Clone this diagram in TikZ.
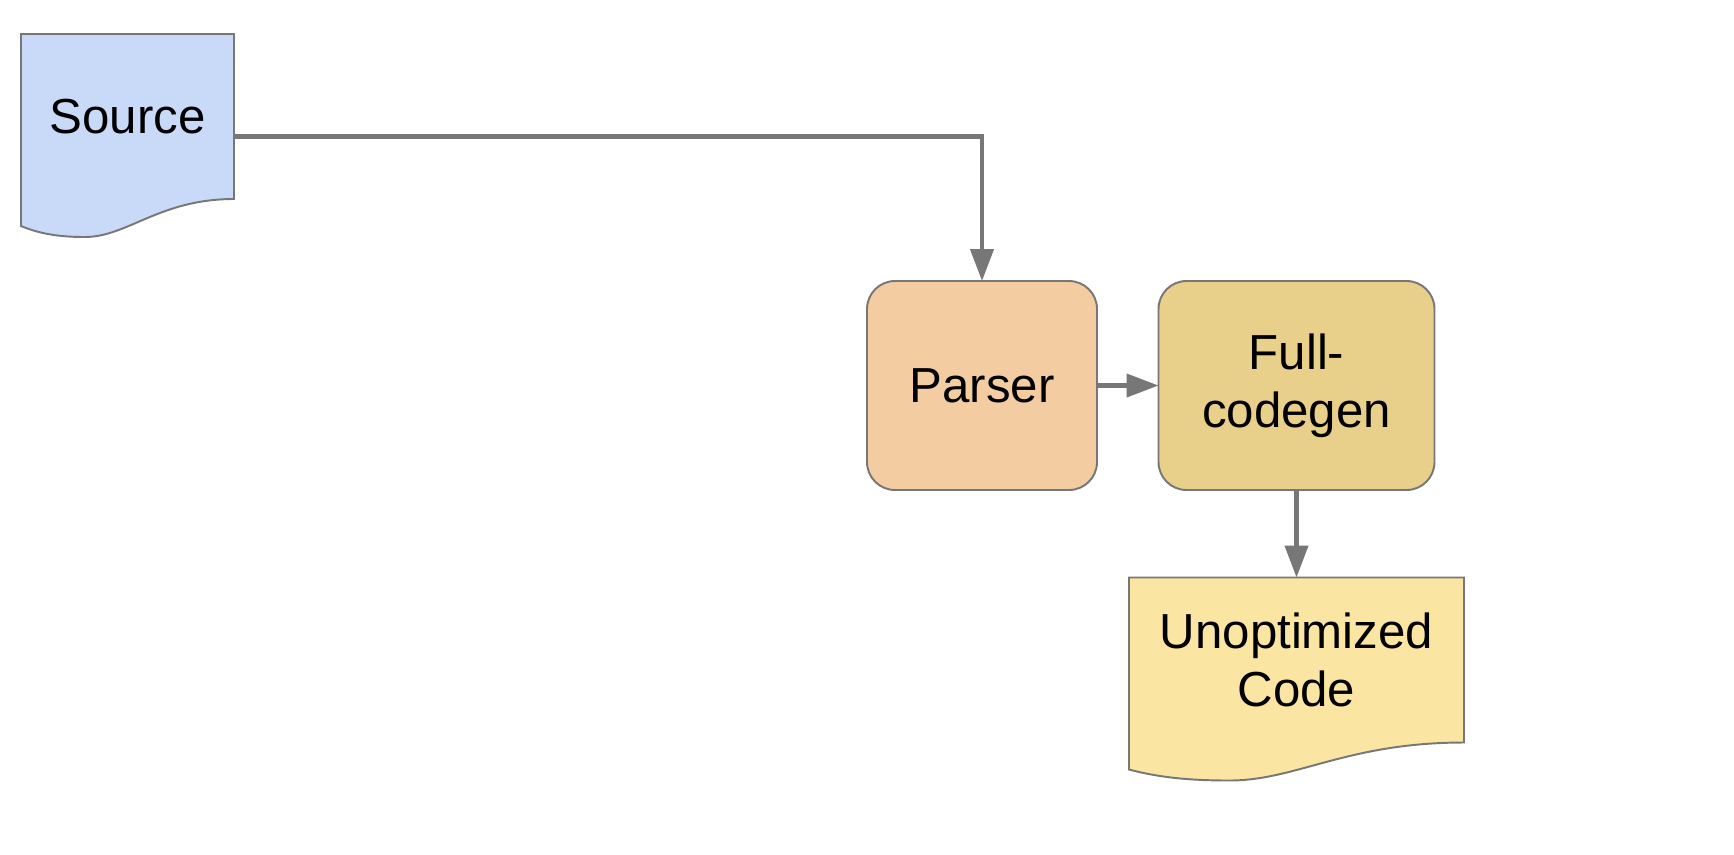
\documentclass[tikz,border=0pt]{standalone}
\usepackage{fontspec}
\setmainfont{Liberation Sans}
\usetikzlibrary{arrows.meta,calc,backgrounds}

\definecolor{srcblue}{HTML}{C9DAF8}
\definecolor{parserorange}{HTML}{F3CDA1}
\definecolor{fullgold}{HTML}{E8CF8A}
\definecolor{codeyellow}{HTML}{FBE5A2}
\definecolor{edgegray}{HTML}{777777}

\tikzset{
    boxtext/.style={font=\fontsize{28}{33}\selectfont, align=center, outer sep=0pt, inner sep=0pt},
    stagebox/.style={boxtext, draw=edgegray, line width=1.1pt, rounded corners=0.56cm, minimum height=4.18cm},
    docnode/.style={boxtext, minimum height=3.3cm},
    docline/.style={draw=edgegray, line width=1.1pt},
    conn/.style={draw=edgegray, line width=2.4pt, -{Triangle[length=0.64cm,width=0.46cm]}}
}

% document shape drawn round a node: #1 node name, #2 fill
\newcommand{\docshape}[2]{%
    \draw[docline,fill=#2] (#1.south east) -- (#1.north east) -- (#1.north west)
        -- ([yshift=-0.54cm]#1.south west)
        .. controls ($(#1.south west)!0.1!(#1.south east)+(0,-0.72cm)$) and ($(#1.south west)!0.2!(#1.south east)+(0,-0.76cm)$)
        .. ($(#1.south west)!0.3!(#1.south east)+(0,-0.76cm)$)
        .. controls ($(#1.south west)!0.5!(#1.south east)+(0,-0.76cm)$) and ($(#1.south west)!0.65!(#1.south east)$)
        .. (#1.south east) -- cycle;}

\begin{document}
\begin{tikzpicture}
    \useasboundingbox (0,0) rectangle (34.68,-17.08);

    \node[docnode, minimum width=4.26cm] (src) at (2.55,-2.33) {Source};
    \node[stagebox, fill=parserorange, minimum width=4.6cm] (parser) at (19.64,-7.71) {Parser};
    \node[stagebox, fill=fullgold, minimum width=5.52cm] (full) at (25.93,-7.71) {Full-\\codegen};
    \node[docnode, minimum width=6.7cm] (unopt) at (25.93,-13.2) {Unoptimized\\Code};

    \begin{scope}[on background layer]
        \docshape{src}{srcblue}
        \docshape{unopt}{codeyellow}
    \end{scope}

    \draw[conn] ([yshift=-0.4cm]src.east) -| (parser.north);
    \draw[conn] (parser.east) -- (full.west);
    \draw[conn] (full.south) -- (unopt.north);
\end{tikzpicture}
\end{document}
